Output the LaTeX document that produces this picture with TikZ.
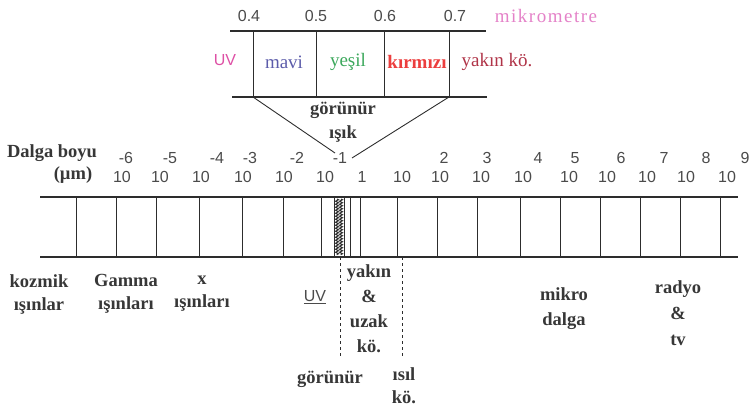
\documentclass[tikz,border=0pt]{standalone}
\usepackage{fontspec}
\setmainfont{Liberation Serif}
\setsansfont{Liberation Sans}
\newfontfamily\spacedserif{Liberation Serif}[LetterSpace=8]
\usepackage{tikz}
\usetikzlibrary{
	decorations.pathmorphing,
	positioning
}
\definecolor{TextGray}{RGB}{55,55,55}
\definecolor{NumGray}{RGB}{75,75,75}
\definecolor{LineGray}{RGB}{45,45,45}
\definecolor{UVPink}{RGB}{222,80,165}
\definecolor{MaviBlue}{RGB}{92,92,170}
\definecolor{YesilGreen}{RGB}{60,168,92}
\definecolor{KirmiziRed}{RGB}{236,62,62}
\definecolor{YakinRed}{RGB}{176,52,72}
\definecolor{MikroPink}{RGB}{228,130,200}

\tikzset{
	lbl/.style={font=\bfseries\fontsize{18.5}{23}\selectfont, text=TextGray, inner sep=0pt, align=center},
	renk/.style={font=\fontsize{19}{22}\selectfont, inner sep=0pt},
	num/.style={font=\sffamily\fontsize{16}{17}\selectfont, text=NumGray, inner sep=0pt},
	band/.style={LineGray, line width=1.1pt},
	tick/.style={LineGray, line width=0.9pt}
}

\begin{document}
\begin{tikzpicture}[x=1pt, y=-1pt]
	\useasboundingbox (0,0) rectangle (753,409);

	% görünür ışık kutusu
	\draw[band] (230,31) -- (486,31);
	\draw[band] (232,97) -- (487,97);
	\foreach \x in {253,316,384,449}
		\draw[tick] (\x,31) -- (\x,97);
	\node[num] (m4) at (249,16) {0.4};
	\node[num] (m5) at (316,16) {0.5};
	\node[num] (m6) at (385,16) {0.6};
	\node[num] (m7) at (455,16) {0.7};
	\node[renk, text=MikroPink, font=\spacedserif\fontsize{19}{20}\selectfont] (mikrometre) at (546,16) {mikrometre};

	\node[num, text=UVPink] (uvtop) at (225,60) {UV};
	\node[renk, text=MaviBlue] (mavi) at (284,62) {mavi};
	\node[renk, text=YesilGreen] (yesil) at (348,62) {yeşil};
	\node[renk, text=KirmiziRed, font=\bfseries\fontsize{19}{22}\selectfont] (kirmizi) at (417,62) {kırmızı};
	\node[renk, text=YakinRed] (yakinko) at (497,62) {yakın kö.};

	\node[lbl, font=\bfseries\fontsize{18.5}{24}\selectfont] (gorunurisik) at (343,122) {görünür\\ışık};

	% iki çizgi -1'e iner
	\coordinate (gL) at (253,97);
	\coordinate (gR) at (449,97);
	\coordinate (gLend) at (335,153);
	\coordinate (gRend) at (352,158);
	\draw[tick] (gL) -- (gLend);
	\draw[tick] (gR) -- (gRend);

	% dalga boyu ekseni
	\node[lbl] (dalga) at (52,153) {Dalga boyu};
	\node[lbl] (birim) at (73,175) {(µm)};
	\foreach \x/\sx/\e in {122/126/-6, 160/170/-5, 201/217/-4, 243/250/-3, 284/297/-2, 325/340/-1,
		440/444/2, 481/487/3, 523/538/4, 569/575/5, 607/621/6, 647/664/7, 686/706/8, 727/745/9}{
		\node[num] at (\x,177) {10};
		\node[num] at (\sx,158) {\e};
	}
	\node[num] (bir) at (362,177) {1};
	\node[num] (on) at (402,177) {10};

	% spektrum bandı
	\draw[band] (40,197) -- (738,197);
	\draw[band] (40,257) -- (738,257);
	\foreach \x in {76,116,156,199,242,283,321,350,360,397,437,477,520,560,600,640,680,720}
		\draw[tick] (\x,197) -- (\x,257);
	\draw[tick] (334,197) rectangle (344,257);
	\draw[LineGray, line width=0.9pt, decorate, decoration={zigzag, segment length=3pt, amplitude=1.5pt}] (337,199) -- (337,255);
	\draw[LineGray, line width=0.9pt, decorate, decoration={zigzag, segment length=3pt, amplitude=1.5pt}] (341,199) -- (341,255);

	% kesikli sınırlar
	\coordinate (dA) at (340,257);
	\coordinate (dAend) at (340,356);
	\coordinate (dB) at (402,257);
	\coordinate (dBend) at (402,356);
	\draw[LineGray, line width=0.8pt, dash pattern=on 3pt off 3pt] (dA) -- (dAend);
	\draw[LineGray, line width=0.8pt, dash pattern=on 3pt off 3pt] (dB) -- (dBend);

	% bölge adları
	\node[lbl] (kozmik) at (39,294) {kozmik\\ışınlar};
	\node[lbl] (gamma) at (126,294) {Gamma\\ışınları};
	\node[lbl] (xray) at (202,294) {x\\ışınları};
	\node[num] (uv) at (315,297) {\underline{UV}};
	\node[lbl, font=\bfseries\fontsize{18.5}{25}\selectfont] (kizilotesi) at (369,309) {yakın\\\&\\uzak\\kö.};
	\node[lbl] (gorunur) at (330,379) {görünür};
	\node[lbl, font=\bfseries\fontsize{18.5}{23}\selectfont] (isil) at (404,386) {ısıl\\kö.};
	\node[lbl, font=\bfseries\fontsize{18.5}{25}\selectfont] (mikro) at (564,309) {mikro\\dalga};
	\node[lbl, font=\bfseries\fontsize{18.5}{26}\selectfont] (radyo) at (678,313) {radyo\\\&\\tv};
\end{tikzpicture}
\end{document}
